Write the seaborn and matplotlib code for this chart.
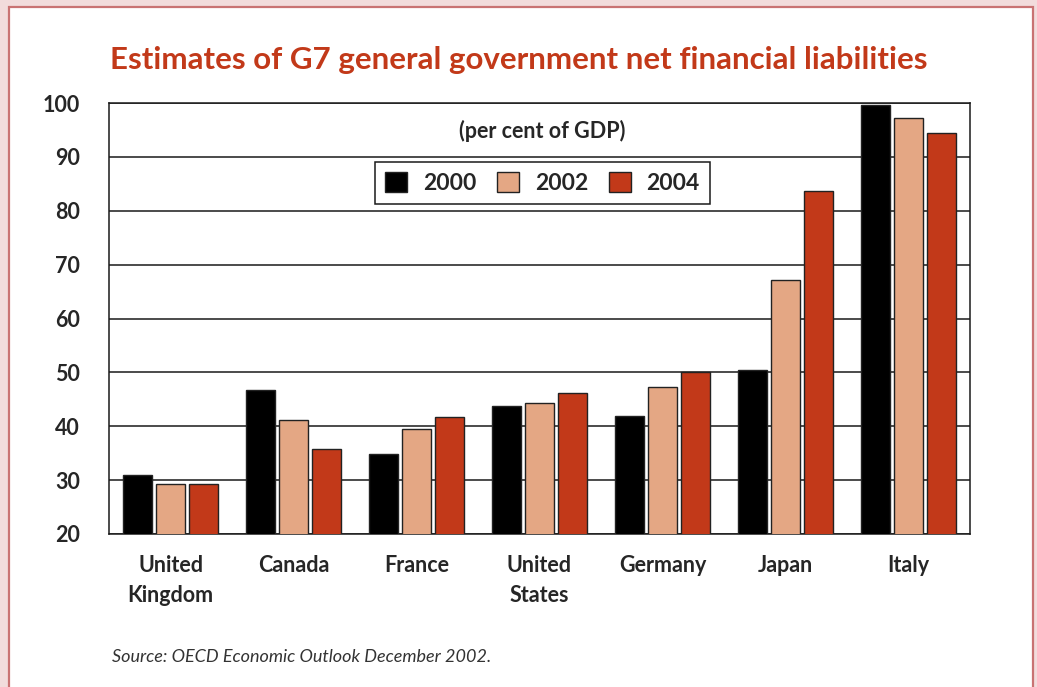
import matplotlib
matplotlib.use("Agg")
import matplotlib.pyplot as plt
import matplotlib.patches as mpatches
import seaborn as sns
import pandas as pd

countries = ["United\nKingdom", "Canada", "France", "United\nStates", "Germany", "Japan", "Italy"]
years = ["2000", "2002", "2004"]
v2000 = [30.9, 46.7, 34.9, 43.8, 41.9, 50.4, 99.6]
v2002 = [29.2, 41.1, 39.4, 44.3, 47.2, 67.2, 97.2]
v2004 = [29.2, 35.8, 41.7, 46.1, 50.1, 83.7, 94.4]
colors = ["#000000", "#e4a784", "#c23919"]

rows = []
for y, vals in zip(years, [v2000, v2002, v2004]):
    for c, v in zip(countries, vals):
        rows.append({"country": c, "year": y, "value": v})
df = pd.DataFrame(rows)

sns.set_style("white")
plt.rcParams["font.family"] = ["Lato", "DejaVu Sans"]
HEAVY = "bold"

fig = plt.figure(figsize=(10.37, 6.87), dpi=100)
fig.patch.set_facecolor("#f2dcdc")
panel = mpatches.Rectangle((9 / 1037, -0.01), (1033 - 9) / 1037, 1 - 7 / 687 + 0.01,
                           transform=fig.transFigure, facecolor="white",
                           edgecolor="#c97373", linewidth=1.6, zorder=-10)
fig.patches.append(panel)

ax = fig.add_axes([109 / 1037, 1 - 534 / 687, (970 - 109) / 1037, (534 - 103) / 687])
ax.set_zorder(1)
ax.set_facecolor("white")
sns.barplot(data=df, x="country", y="value", hue="year", palette=colors,
            order=countries, hue_order=years, width=0.8, gap=0.1, saturation=1,
            edgecolor="#222222", linewidth=1.0, ax=ax, legend=False, zorder=3)

ax.set_ylim(20, 100)
ax.set_xlim(-0.5, len(countries) - 0.5)
ax.set_yticks(range(20, 101, 10))
ax.set_yticklabels([str(t) for t in range(20, 101, 10)], fontsize=15.5, fontweight=HEAVY)
ax.yaxis.grid(True, color="#1a1a1a", linewidth=1.1, zorder=0)
ax.set_axisbelow(True)
ax.tick_params(axis="y", direction="out", length=16, width=1.1, color="#1a1a1a", pad=5)
ax.set_xticks(range(len(countries)))
ax.set_xticklabels(countries, fontsize=15.5, fontweight=HEAVY, linespacing=1.55)
ax.tick_params(axis="x", length=0, pad=15)
ax.set_xticks([i - 0.5 for i in range(len(countries) + 1)], minor=True)
ax.tick_params(axis="x", which="minor", direction="out", length=8, width=1.1, color="#1a1a1a")
ax.set_xlabel("")
ax.set_ylabel("")
for s in ax.spines.values():
    s.set_color("#1a1a1a")
    s.set_linewidth(1.1)
    s.set_visible(True)

handles = [mpatches.Patch(facecolor=c, edgecolor="#222222", linewidth=1.0, label=y)
           for c, y in zip(colors, years)]
leg = ax.legend(handles=handles, ncol=3, loc="center", bbox_to_anchor=(0.5035, 0.814),
                prop={"weight": HEAVY, "size": 16.5}, frameon=True, fancybox=False,
                edgecolor="#1a1a1a", framealpha=1, handlelength=0.95, handleheight=0.95,
                columnspacing=0.9, handletextpad=0.7, borderpad=0.45, borderaxespad=0)
leg.get_frame().set_linewidth(1.1)
leg.set_zorder(5)

ax.text(0.5035, 0.935, "(per cent of GDP)", transform=ax.transAxes, ha="center", va="center",
        fontsize=15.5, fontweight=HEAVY)

fig.text(519 / 1037, 1 - 60 / 687, "Estimates of G7 general government net financial liabilities",
         ha="center", va="center", fontsize=22.5, fontweight=HEAVY, color="#c23919")
fig.text(112 / 1037, 1 - 657 / 687, "Source: OECD Economic Outlook December 2002.",
         ha="left", va="center", fontsize=13, style="italic", color="#333333", fontweight="normal")

fig.savefig("out.png", dpi=100, facecolor=fig.get_facecolor())
